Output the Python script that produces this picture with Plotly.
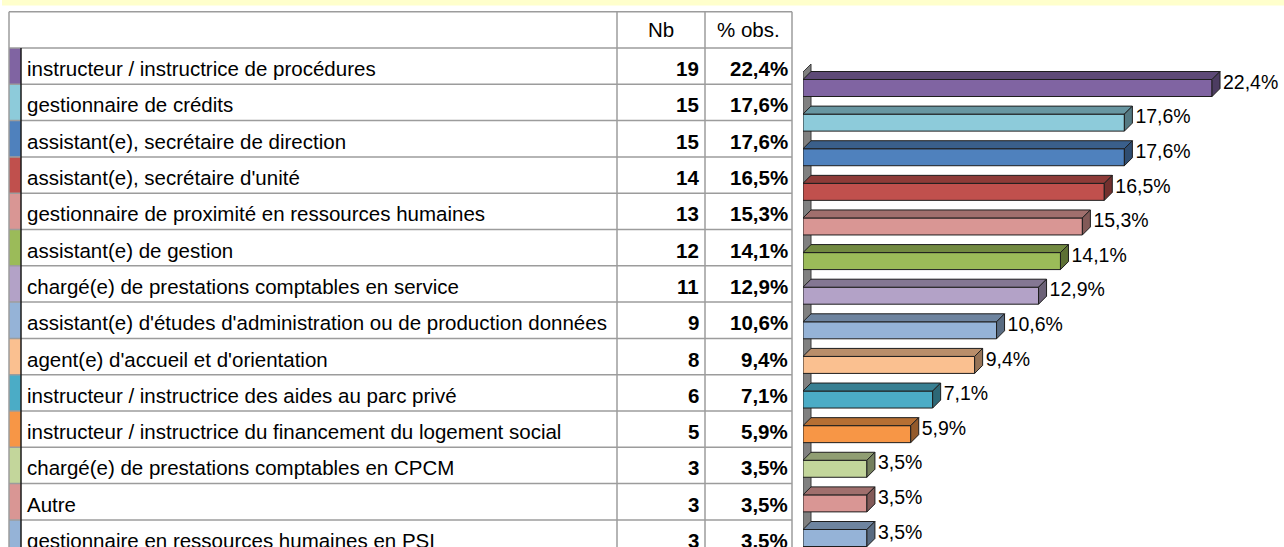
import plotly.graph_objects as go

# ---------------- data ----------------
labels = [
    "instructeur / instructrice de procédures",
    "gestionnaire de crédits",
    "assistant(e), secrétaire de direction",
    "assistant(e), secrétaire d'unité",
    "gestionnaire de proximité en ressources humaines",
    "assistant(e) de gestion",
    "chargé(e) de prestations comptables en service",
    "assistant(e) d'études d'administration ou de production données",
    "agent(e) d'accueil et d'orientation",
    "instructeur / instructrice des aides au parc privé",
    "instructeur / instructrice du financement du logement social",
    "chargé(e) de prestations comptables en CPCM",
    "Autre",
    "gestionnaire en ressources humaines en PSI",
]
nb = [19, 15, 15, 14, 13, 12, 11, 9, 8, 6, 5, 3, 3, 3]
pct = [22.4, 17.6, 17.6, 16.5, 15.3, 14.1, 12.9, 10.6, 9.4, 7.1, 5.9, 3.5, 3.5, 3.5]
header = ["Nb", "% obs."]
colors = ["#8064A2", "#8DCBDA", "#4F81BD", "#C0504D", "#D99694", "#9BBB59", "#B3A2C7",
          "#95B3D7", "#FAC090", "#4BACC6", "#F79646", "#C3D69B", "#D99694", "#95B3D7"]

# ---------------- helpers ----------------
W, H = 1284, 547
FONT = "Liberation Sans, Arial, sans-serif"


def shade(hx, f):
    hx = hx.lstrip("#")
    r, g, b = (int(hx[i:i + 2], 16) for i in (0, 2, 4))
    return "#%02X%02X%02X" % (int(r * f), int(g * f), int(b * f))


def fr(v):
    return ("%.1f" % v).replace(".", ",") + "%"


idx = list(range(len(labels)))

# bar-chart geometry (pixel scale of the 3D bars)
PX_PER_PCT = 18.26
X0_PX = 803
ROW_PX = 34.615
BAR0_PX = 88
x_rng = [0, (W - X0_PX) / PX_PER_PCT]
y_rng = [(H - BAR0_PX) / ROW_PX, -BAR0_PX / ROW_PX]
dxu = 8 / PX_PER_PCT
dyu = 8 / ROW_PX
half = 8.5 / ROW_PX
lab_gap = 3 / PX_PER_PCT

# table geometry
T_ROW = 36.3
T_HEAD_BOTTOM = 48
ty_rng = [(H - T_HEAD_BOTTOM) / T_ROW - 0.5, -T_HEAD_BOTTOM / T_ROW - 0.5]
X_LEFT, X_SW, X_NB, X_PC, X_RIGHT = 9, 21, 617, 705, 792

fig = go.Figure()

# front faces
fig.add_trace(go.Bar(
    x=pct, y=idx, orientation="h", width=2 * half, base=0,
    marker=dict(color=colors, line=dict(color="#1E1E1E", width=1)),
    xaxis="x", yaxis="y", hoverinfo="skip", showlegend=False,
))

# top and side faces
for i, v in enumerate(pct):
    top = shade(colors[i], 0.74)
    side = shade(colors[i], 0.60)
    fig.add_trace(go.Scatter(
        x=[0, v, v + dxu, dxu, 0],
        y=[i - half, i - half, i - half - dyu, i - half - dyu, i - half],
        mode="lines", fill="toself", fillcolor=top,
        line=dict(color="#1E1E1E", width=1), xaxis="x", yaxis="y",
        hoverinfo="skip", showlegend=False,
    ))
    fig.add_trace(go.Scatter(
        x=[v, v + dxu, v + dxu, v, v],
        y=[i - half, i - half - dyu, i + half - dyu, i + half, i - half],
        mode="lines", fill="toself", fillcolor=side,
        line=dict(color="#1E1E1E", width=1), xaxis="x", yaxis="y",
        hoverinfo="skip", showlegend=False,
    ))

# value labels
fig.add_trace(go.Scatter(
    x=[v + dxu + lab_gap for v in pct], y=[i - 0.12 for i in idx],
    mode="text", text=[fr(v) for v in pct], textposition="middle right",
    textfont=dict(family=FONT, size=19.5, color="#000000"),
    xaxis="x", yaxis="y", hoverinfo="skip", showlegend=False, cliponaxis=False,
))

shapes = []
# back wall of the 3D chart
wall_top = (72 - BAR0_PX) / ROW_PX
shapes.append(dict(
    type="path", xref="x", yref="y", layer="below",
    path=f"M 0 {wall_top} L {dxu} {wall_top - dyu} L {dxu} 14 L 0 14 Z",
    fillcolor="#808080", line=dict(color="#3A3A3A", width=1),
))

# yellow title band (title text is cut off in the reference)
shapes.append(dict(type="rect", xref="paper", yref="paper",
                   x0=2 / W, x1=1, y0=1 - 5.5 / H, y1=1,
                   fillcolor="#FFFFCC", line=dict(width=0), layer="below"))

# table swatches
for i in idx:
    shapes.append(dict(type="rect", xref="x2", yref="y2",
                       x0=X_LEFT, x1=X_SW, y0=i - 0.5, y1=i + 0.5,
                       fillcolor=colors[i], line=dict(width=0)))
grid = dict(color="#9C9C9C", width=1.5)
for k in range(-1, len(labels) + 1):
    shapes.append(dict(type="line", xref="x2", yref="y2",
                       x0=X_LEFT, x1=X_RIGHT, y0=k - 0.5, y1=k - 0.5, line=grid))
for xv in (X_LEFT, X_NB, X_PC, X_RIGHT):
    shapes.append(dict(type="line", xref="x2", yref="y2",
                       x0=xv, x1=xv, y0=-1.5, y1=len(labels) + 0.5, line=grid))
shapes.append(dict(type="line", xref="x2", yref="y2",
                   x0=X_SW, x1=X_SW, y0=-0.5, y1=len(labels) + 0.5,
                   line=dict(color="#1A1A1A", width=1.5)))

ann = []
dy_txt = 2.5 / T_ROW
ann.append(dict(x=(X_NB + X_PC) / 2, y=-1 - 0.5 / T_ROW, xref="x2", yref="y2",
                text=header[0], showarrow=False, xanchor="center", yanchor="middle",
                font=dict(family=FONT, size=20.5, color="#000")))
ann.append(dict(x=(X_PC + X_RIGHT) / 2, y=-1 - 0.5 / T_ROW, xref="x2", yref="y2",
                text=header[1], showarrow=False, xanchor="center", yanchor="middle",
                font=dict(family=FONT, size=20.5, color="#000")))
for i in idx:
    ann.append(dict(x=25, y=i + dy_txt, xref="x2", yref="y2", text=labels[i],
                    showarrow=False, xanchor="left", yanchor="middle",
                    font=dict(family=FONT, size=20.5, color="#000")))
    ann.append(dict(x=701, y=i + dy_txt, xref="x2", yref="y2", text="<b>%d</b>" % nb[i],
                    showarrow=False, xanchor="right", yanchor="middle",
                    font=dict(family=FONT, size=20.5, color="#000")))
    ann.append(dict(x=790, y=i + dy_txt, xref="x2", yref="y2", text="<b>%s</b>" % fr(pct[i]),
                    showarrow=False, xanchor="right", yanchor="middle",
                    font=dict(family=FONT, size=20.5, color="#000")))

fig.update_layout(
    width=W, height=H, margin=dict(l=0, r=0, t=0, b=0),
    paper_bgcolor="white", plot_bgcolor="rgba(0,0,0,0)",
    showlegend=False, barmode="overlay",
    xaxis=dict(domain=[X0_PX / W, 1], range=x_rng, visible=False, fixedrange=True, anchor="y"),
    yaxis=dict(domain=[0, 1], range=y_rng, visible=False, fixedrange=True, anchor="x"),
    xaxis2=dict(domain=[0, 1], range=[0, W], visible=False, anchor="y2", fixedrange=True),
    yaxis2=dict(domain=[0, 1], range=ty_rng, visible=False, anchor="x2", fixedrange=True),
    shapes=shapes, annotations=ann,
)

fig.write_html("out.html", config={"displayModeBar": False},
               post_script="document.body.style.margin='0px';document.body.style.overflow='hidden';")
